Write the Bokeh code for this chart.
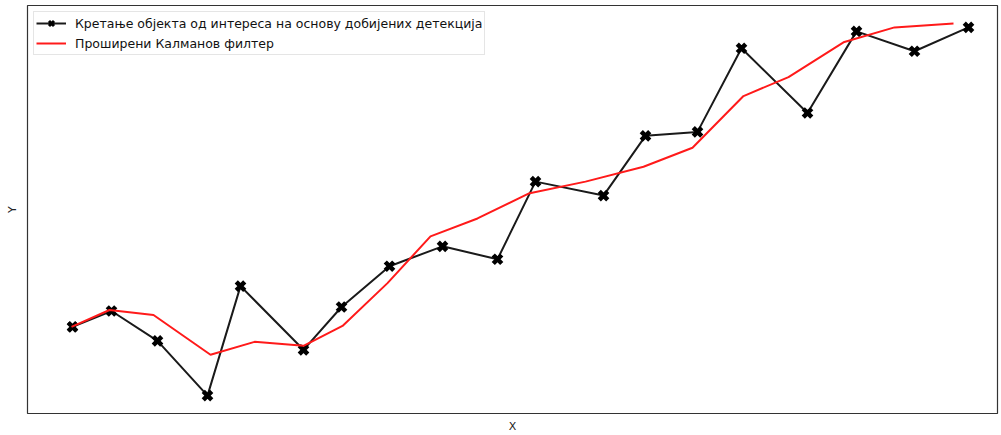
from bokeh.plotting import figure
from bokeh.models import Range1d, Legend, LegendItem, FixedTicker
from bokeh.embed import file_html
from bokeh.resources import INLINE

# Measured detections (black)
det_x = [45, 84, 130, 180, 213, 276, 314, 362, 415, 470, 508, 576, 618, 670, 714, 780, 829, 887, 941]
det_y = [87, 103, 73, 18, 128, 64, 107, 148, 168, 155, 233, 219, 279, 283, 367, 302, 384, 364, 388]

# Extended Kalman filter estimate (red)
ekf_x = [44, 82, 126, 183, 227, 276, 315, 360, 403, 450, 501, 558, 616, 665, 716, 761, 816, 867, 926]
ekf_y = [87, 104, 99, 59, 72, 68, 88, 131, 178, 196, 221, 233, 248, 267, 319, 338, 373, 388, 392]

label_det = "Кретање објекта од интереса на основу добијених детекција"
label_ekf = "Проширени Калманов филтер"

FONT = "DejaVu Sans"

p = figure(width=1001, height=435, output_backend="svg", toolbar_location=None,
           x_range=Range1d(0, 970), y_range=Range1d(0, 410),
           min_border_left=27, min_border_right=4, min_border_top=5, min_border_bottom=20)

p.xgrid.visible = False
p.ygrid.visible = False
p.outline_line_color = "#333333"
p.outline_line_width = 1.2
p.background_fill_color = "white"
p.border_fill_color = "white"

for ax, lab, st in ((p.xaxis[0], "X", 6), (p.yaxis[0], "Y", 9)):
    ax.ticker = FixedTicker(ticks=[])
    ax.axis_label = lab
    ax.axis_label_text_font = FONT
    ax.axis_label_text_font_style = "normal"
    ax.axis_label_text_font_size = "11px"
    ax.axis_label_text_color = "#222222"
    ax.axis_line_color = None
    ax.major_tick_line_color = None
    ax.minor_tick_line_color = None
    ax.major_tick_out = 0
    ax.major_tick_in = 0
    ax.major_label_standoff = 0
    ax.axis_label_standoff = st

l1 = p.line(det_x, det_y, line_color="#1a1a1a", line_width=2)
# thinner marker on the first detection (hidden beneath the main markers) used for the legend glyph
m_leg = p.scatter(det_x[:1], det_y[:1], marker="x", size=12, line_color="black", line_width=3)
m1 = p.scatter(det_x, det_y, marker="x", size=12, line_color="black", line_width=4.5)
l2 = p.line(ekf_x, ekf_y, line_color="#ff1a1a", line_width=2)

legend = Legend(items=[LegendItem(label=label_det, renderers=[l1, m_leg]),
                       LegendItem(label=label_ekf, renderers=[l2])],
                location="top_left", orientation="vertical")
legend.label_text_font = FONT
legend.label_text_font_size = "12.5px"
legend.label_text_color = "#111111"
legend.label_height = 18
legend.glyph_height = 18
legend.glyph_width = 30
legend.label_standoff = 9
legend.spacing = 2
legend.padding = 2
legend.margin = 6
legend.border_line_color = "#cccccc"
legend.border_line_width = 1
legend.background_fill_color = "white"
legend.background_fill_alpha = 0.8
p.add_layout(legend)

open("out.html", "w").write(file_html(p, INLINE))
